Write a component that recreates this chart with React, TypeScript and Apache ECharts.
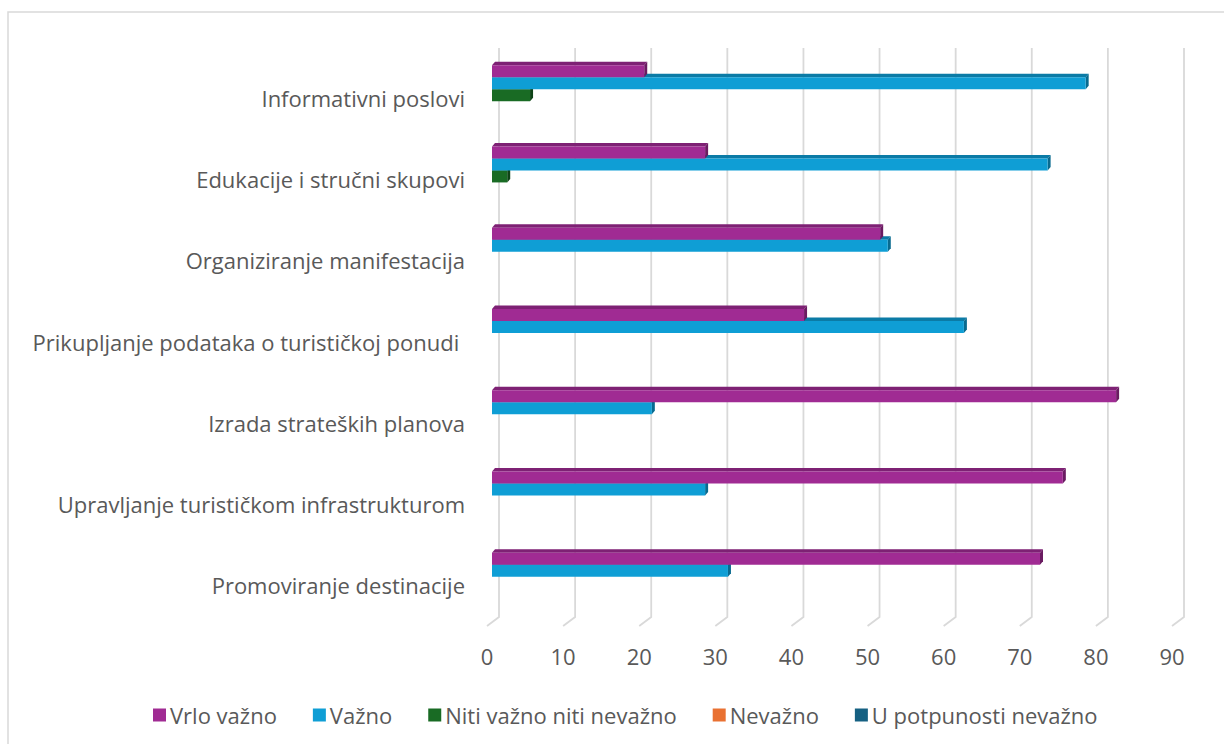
import React, { useEffect, useRef } from "react";
import * as echarts from "echarts";

const categories = [
  "Informativni poslovi",
  "Edukacije i stručni skupovi",
  "Organiziranje manifestacija",
  "Prikupljanje podataka o turističkoj ponudi ",
  "Izrada strateških planova",
  "Upravljanje turističkom infrastrukturom",
  "Promoviranje destinacije",
];
const seriesNames = [
  "Vrlo važno",
  "Važno",
  "Niti važno niti nevažno",
  "Nevažno",
  "U potpunosti nevažno",
];
const vrloVazno = [20, 28, 51, 41, 82, 75, 72];
const vazno = [78, 73, 52, 62, 21, 28, 31];
const nitiVazno = [5, 2, 0, 0, 0, 0, 0];
const nevazno = [0, 0, 0, 0, 0, 0, 0];
const uPotpunostiNevazno = [0, 0, 0, 0, 0, 0, 0];
const xTicks = [0, 10, 20, 30, 40, 50, 60, 70, 80, 90];

const seriesValues = [vrloVazno, vazno, nitiVazno, nevazno, uPotpunostiNevazno];
const frontColors = ["#A02B93", "#0F9ED5", "#196B24", "#E97132", "#156082"];
const topColors = ["#7E2174", "#0B7BA6", "#12501B", "#B8582A", "#104B66"];
const sideColors = ["#6A1B61", "#086A8F", "#0E4316", "#A04A22", "#0D3E55"];

const FONT = "'Open Sans', sans-serif";
const TEXT = "#595959";

export default function App() {
  const ref = useRef<HTMLDivElement>(null);
  useEffect(() => {
    document.body.style.margin = "0";
    const chart = echarts.init(ref.current!, undefined, { renderer: "svg" });
    const BW = 12;
    const N = 5;
    const barSeries = seriesValues.map((vals, s) => ({
      type: "custom",
      name: seriesNames[s],
      z: 10 - s,
      clip: false,
      itemStyle: { color: frontColors[s] },
      encode: { x: 0, y: 1 },
      data: vals.map((v, i) => [v, i]),
      renderItem: (params: any, api: any) => {
        const v = api.value(0);
        const c = api.value(1);
        if (!v) return null;
        const start = api.coord([0, c]);
        const end = api.coord([v, c]);
        const y0 = start[1] - 4 + 1.5 - (N * BW) / 2 + s * BW;
        const x0 = start[0] + 5;
        const x1 = end[0] + 5;
        const dx = 3;
        const dy = 3.5;
        return {
          type: "group",
          children: [
            {
              type: "polygon",
              shape: { points: [[x0, y0], [x1, y0], [x1 + dx, y0 - dy], [x0 + dx, y0 - dy]] },
              style: { fill: topColors[s] },
            },
            {
              type: "polygon",
              shape: { points: [[x1, y0], [x1 + dx, y0 - dy], [x1 + dx, y0 + BW - dy], [x1, y0 + BW]] },
              style: { fill: sideColors[s] },
            },
            {
              type: "rect",
              shape: { x: x0, y: y0, width: x1 - x0, height: BW },
              style: { fill: frontColors[s] },
            },
          ],
        };
      },
    }));

    const gridSeries = {
      type: "custom",
      name: "grid",
      z: 1,
      silent: true,
      clip: false,
      encode: { x: 0, y: 1 },
      data: xTicks.map((t) => [t, 0]),
      renderItem: (params: any, api: any) => {
        const cs = params.coordSys;
        const x = api.coord([api.value(0), 0])[0];
        const bottom = cs.y + cs.height;
        return {
          type: "polyline",
          shape: {
            points: [
              [x + 12, cs.y - 9],
              [x + 12, bottom - 9],
              [x, bottom],
            ],
          },
          style: { stroke: "#D9D9D9", lineWidth: 1.8, fill: "none" },
        };
      },
    };

    chart.setOption({
      animation: false,
      backgroundColor: "#ffffff",
      textStyle: { fontFamily: FONT },
      graphic: [
        {
          type: "rect",
          shape: { x: 8, y: 12, width: 1400, height: 900 },
          style: { fill: "none", stroke: "#D9D9D9", lineWidth: 1.5 },
          silent: true,
        },
      ],
      grid: { left: 487, top: 57, width: 685, height: 569 },
      xAxis: {
        type: "value",
        min: 0,
        max: 90,
        interval: 10,
        axisLine: { show: false },
        axisTick: { show: false },
        splitLine: { show: false },
        axisLabel: { color: TEXT, fontSize: 22, fontFamily: FONT, margin: 19 },
      },
      yAxis: {
        type: "category",
        inverse: true,
        data: categories,
        axisLine: { show: false },
        axisTick: { show: false },
        splitLine: { show: false },
        axisLabel: { color: TEXT, fontSize: 22, fontFamily: FONT, margin: 22 },
      },
      legend: {
        data: seriesNames.map((n, i) => ({ name: n, icon: "rect", itemStyle: { color: frontColors[i] } })),
        left: 148,
        top: 699,
        itemWidth: 13,
        itemHeight: 13,
        itemGap: 36,
        textStyle: { color: TEXT, fontSize: 22, fontFamily: FONT, padding: [0, 0, 0, -1] },
        selectedMode: false,
      },
      series: [gridSeries, ...barSeries],
    });
    return () => chart.dispose();
  }, []);
  return <div ref={ref} style={{ width: 1224, height: 744 }} />;
}
